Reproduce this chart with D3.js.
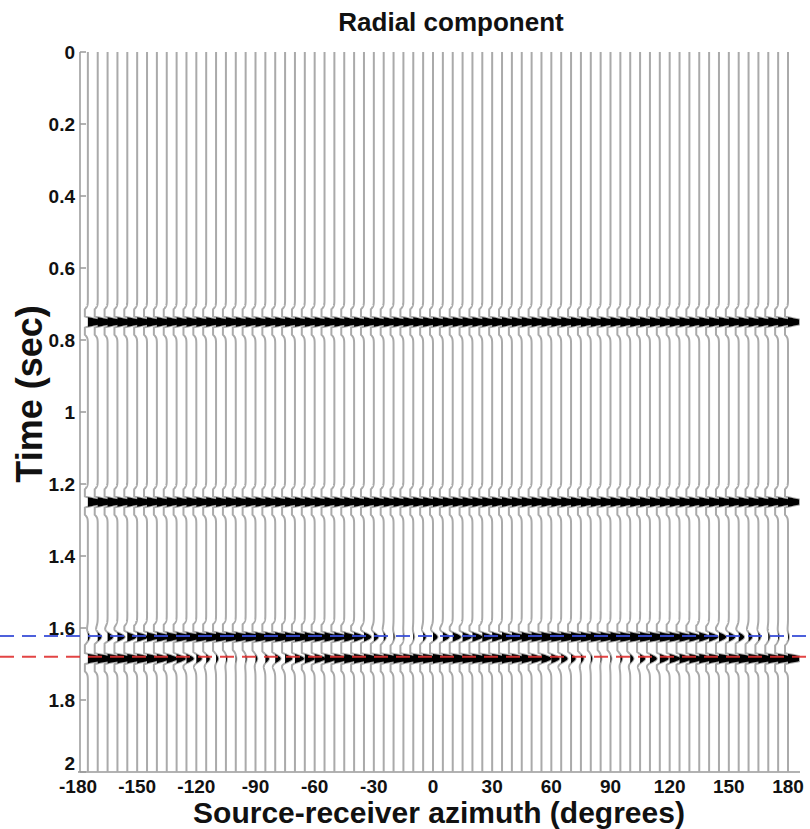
<!DOCTYPE html>
<html>
<head>
<meta charset="utf-8">
<script src="https://cdn.jsdelivr.net/npm/d3@7"></script>
<style>
  html, body { margin: 0; padding: 0; background: #fff; }
  svg { display: block; }
  text { font-family: "Liberation Sans", Arial, sans-serif; font-weight: bold; fill: #111; }
</style>
</head>
<body>
<div id="chart"></div>
<script>
// ---------------- data ----------------
const azimuths = [-175,-170,-165,-160,-155,-150,-145,-140,-135,-130,-125,-120,
  -115,-110,-105,-100,-95,-90,-85,-80,-75,
  -70,-65,-60,-55,-50,-45,-40,-35,-30,-25,-20,-15,
  -10,-5,0,5,10,15,20,25,30,35,40,45,50,
  55,60,65,70,75,80,85,90,95,100,105,110,115,
  120,125,130,135,140,145,150,155,160,165,170,175,180];

// arrival times (s)
const arrivalTimes = [0.75, 1.25, 1.625, 1.685];

// amplitudes per trace for each arrival
const ampArrival1 = [1,1,1,1,1,1,1,1,1,1,1,1, 1,1,1,1,1,1,1,1,1, 1,1,1,1,1,1,1,1,1,1,1,1, 1,1,1,1,1,1,1,1,1,1,1,1,1, 1,1,1,1,1,1,1,1,1,1,1,1,1, 1,1,1,1,1,1,1,1,1,1,1,1,1];
const ampArrival2 = [1,1,1,1,1,1,1,1,1,1,1,1, 1,1,1,1,1,1,1,1,1, 1,1,1,1,1,1,1,1,1,1,1,1, 1,1,1,1,1,1,1,1,1,1,1,1,1, 1,1,1,1,1,1,1,1,1,1,1,1,1, 1,1,1,1,1,1,1,1,1,1,1,1,1];
const ampFast = [0.1,0.2,0.3,0.4,0.5,0.6,0.7,0.8,0.85,0.9,0.95,1,
  1,1,1,1,1,1,1,1,1,
  0.95,0.9,0.85,0.8,0.75,0.7,0.55,0.4,0.25,0.12,0.05,0.02,
  0.05,0.15,0.25,0.35,0.45,0.5,0.55,0.6,0.65,0.7,0.8,0.85,0.9,
  1,1,1,1,1,1,1,1,1,1,1,1,1,
  0.9,0.8,0.7,0.6,0.5,0.4,0.35,0.3,0.2,0.12,0.08,0.05,0.05];
const ampSlow = [1,1,1,0.95,0.9,0.85,0.8,0.7,0.6,0.5,0.4,0.3,
  0.2,0.12,0.06,0.03,0.05,0.1,0.2,0.3,0.4,
  0.5,0.55,0.6,0.7,0.8,0.85,0.9,0.95,1,1,1,1,
  1,1,1,1,1,1,1,1,1,0.95,0.85,0.75,0.65,
  0.55,0.45,0.35,0.25,0.15,0.08,0.04,0.05,0.1,0.18,0.28,0.38,0.48,
  0.58,0.68,0.78,0.85,0.9,0.95,1,1,1,1,1,1,1];
const amplitudes = [ampArrival1, ampArrival2, ampFast, ampSlow];

const fastLineTime = 1.622;
const slowLineTime = 1.68;

const yTicks = [0, 0.2, 0.4, 0.6, 0.8, 1, 1.2, 1.4, 1.6, 1.8, 2];
const yTickLabels = ["0", "0.2", "0.4", "0.6", "0.8", "1", "1.2", "1.4", "1.6", "1.8", "2"];
const xTicks = [-180, -150, -120, -90, -60, -30, 0, 30, 60, 90, 120, 150, 180];

const titleText = "Radial component";
const xLabelText = "Source-receiver azimuth (degrees)";
const yLabelText = "Time (sec)";

// ---------------- drawing ----------------
const W = 810, H = 829;
const svg = d3.select("#chart").append("svg").attr("width", W).attr("height", H);

const x = d3.scaleLinear().domain([-180, 180]).range([78, 788]);
const y = d3.scaleLinear().domain([0, 2]).range([52, 772]);

const freq = 17;        // Hz, wavelet dominant frequency
const gain = 18;        // px per unit amplitude
const clipPos = 11;     // px clip (positive)
const clipNeg = 3;      // px clip (negative)
const dt = 0.0008;
const times = d3.range(0, 2 + dt / 2, dt);

function ricker(t) {
  const a = Math.PI * Math.PI * freq * freq * t * t;
  return (1 - 2 * a) * Math.exp(-a);
}

const traces = azimuths.map((az, i) => {
  const samples = times.map(t => {
    let s = 0;
    arrivalTimes.forEach((t0, k) => {
      const d = t - t0;
      if (Math.abs(d) < 0.08) s += amplitudes[k][i] * ricker(d);
    });
    return { t, s };
  });
  return { az, samples };
});

const defl = s => Math.max(-clipNeg, Math.min(clipPos, gain * s));

// axis lines
svg.append("line").attr("x1", 80).attr("x2", 80).attr("y1", y(0)).attr("y2", y(2))
  .attr("stroke", "#999").attr("stroke-width", 1.5);
svg.append("line").attr("x1", 78).attr("x2", 800).attr("y1", y(2)).attr("y2", y(2))
  .attr("stroke", "#999").attr("stroke-width", 1.5);

// wiggle lines
const gLines = svg.append("g");
traces.forEach(tr => {
  const base = x(tr.az);
  gLines.append("path")
    .attr("d", d3.line().x(d => base + defl(d.s)).y(d => y(d.t))(tr.samples))
    .attr("fill", "none").attr("stroke", "#aaa").attr("stroke-width", 2);
});

// positive fills
const gFill = svg.append("g");
traces.forEach(tr => {
  const base = x(tr.az);
  gFill.append("path")
    .attr("d", d3.area().x0(base).x1(d => base + Math.max(0, defl(d.s))).y(d => y(d.t))(tr.samples))
    .attr("fill", "#000").attr("stroke", "none");
});

// y ticks (inward)
yTicks.forEach((v, i) => {
  svg.append("line").attr("x1", 80).attr("x2", 86).attr("y1", y(v)).attr("y2", y(v))
    .attr("stroke", "#999").attr("stroke-width", 1.5);
  svg.append("text").attr("x", 75).attr("y", v === 2 ? y(v) - 9 : y(v)).attr("dy", "0.36em")
    .attr("text-anchor", "end").attr("font-size", 19).text(yTickLabels[i]);
});

// x ticks
xTicks.forEach(v => {
  svg.append("text").attr("x", x(v)).attr("y", 793)
    .attr("text-anchor", "middle").attr("font-size", 19).text(v);
});

// dashed marker lines
svg.append("line").attr("x1", 0).attr("x2", W).attr("y1", y(fastLineTime)).attr("y2", y(fastLineTime))
  .attr("stroke", "#3a4fd8").attr("stroke-width", 2).attr("stroke-dasharray", "14,8").attr("opacity", 0.9);
svg.append("line").attr("x1", 0).attr("x2", W).attr("y1", y(slowLineTime)).attr("y2", y(slowLineTime))
  .attr("stroke", "#e03030").attr("stroke-width", 2).attr("stroke-dasharray", "14,8").attr("opacity", 0.9);

// titles
svg.append("text").attr("x", 451).attr("y", 31).attr("text-anchor", "middle")
  .attr("font-size", 26).text(titleText);
svg.append("text").attr("x", 439).attr("y", 823).attr("text-anchor", "middle")
  .attr("font-size", 30).text(xLabelText);
svg.append("text").attr("transform", "translate(42,394) rotate(-90)").attr("text-anchor", "middle")
  .attr("font-size", 36).text(yLabelText);
</script>
</body>
</html>
